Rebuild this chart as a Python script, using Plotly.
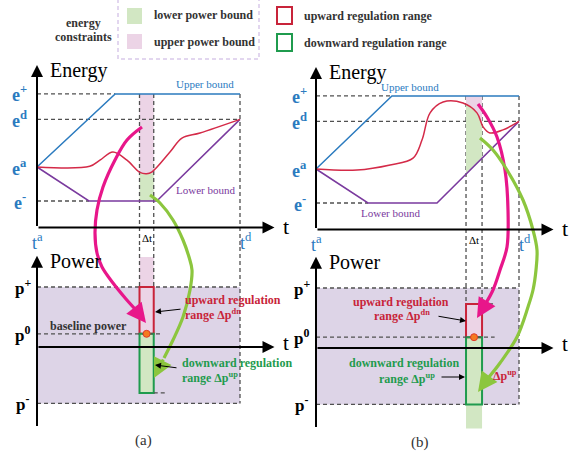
import plotly.graph_objects as go

W, H = 576, 458

# ------------------------------------------------------------------ data
t_a, t_d = 0.0, 10.0
t_end = 11.7                     # arrow tip of time axes
e_minus, e_arr, e_dep, e_plus = 1.0, 2.0, 3.4, 4.15
e_axis, e_top = 0.22, 5.0
p_plus, p_minus = 5.0, -4.7
p_top, p_bottom = 7.6, -6.7

win_a = [5.05, 5.75]
win_b = [7.39, 8.18]

ub_t_a = [0.0, 3.85, 10.0]
ub_e_a = [2.0, 4.15, 4.15]
lb_t_a = [0.0, 2.56, 5.9, 10.0]
lb_e_a = [2.0, 1.0, 1.0, 3.4]
ub_t_b = [0.0, 3.74, 10.0]
ub_e_b = [2.0, 4.15, 4.15]
lb_t_b = [0.0, 2.56, 5.96, 10.0]
lb_e_b = [2.0, 1.0, 1.0, 3.4]

traj_t_a = [0.0, 2.6, 3.1, 3.74, 4.43, 5.07, 5.4, 5.67, 6.55, 7.14, 8.03, 10.0]
traj_e_a = [2.0, 2.02, 2.2, 2.44, 2.2, 1.84, 1.8, 1.86, 2.44, 2.85, 3.0, 3.4]
e_win_a = 1.82

traj_t_b = [0.0, 2.02, 3.65, 4.78, 5.22, 5.62, 6.26, 7.24, 7.93, 8.23, 8.57, 9.21, 10.0]
traj_e_b = [2.0, 1.97, 2.12, 2.32, 2.85, 3.65, 3.97, 3.94, 3.65, 3.24, 3.06, 3.15, 3.4]
wcurve_t_b = [7.39, 7.7, 7.93, 8.18]
wcurve_e_b = [3.91, 3.8, 3.65, 3.3]
lb_win_b = [1.85, 2.32]          # lower bound at window edges (b)

p0_a, p0_b = 1.1, 0.9
dn_low_a = -3.83                 # bottom of downward range (a)
up_high_b = 3.67                 # top of upward range (b)
base_end_a, base_end_b = 6.16, 8.8

# curved arrows (figure pixel space)
mag_a_x = [142, 127, 115, 103, 97, 95, 97, 102, 113, 126, 135]
mag_a_y = [127, 140, 160, 187, 210, 233, 253, 267, 283, 299, 309]
lim_a_x = [150, 160, 173, 183, 189, 192, 190, 183, 173, 164]
lim_a_y = [195, 203, 220, 240, 257, 270, 290, 317, 340, 358]
mag_b_x = [478, 487, 497, 505, 508, 507, 500, 493, 486]
mag_b_y = [104, 117, 137, 170, 210, 247, 270, 290, 303]
lim_b_x = [480, 493, 507, 523, 533, 537, 536, 533, 528, 517, 500, 489]
lim_b_y = [138, 150, 170, 200, 230, 250, 270, 290, 307, 337, 363, 377]

# ------------------------------------------------------------------ style
SERIF = "Liberation Serif, Times New Roman, serif"
BLUE = "#2b7bbf"
PURPLE = "#7a3a9e"
TRAJ = "#d42a48"
MAG = "#e8168a"
LIME = "#8cc63e"
RRED = "#c8243a"
RGREEN = "#1f9b4e"
PINK = "#ecd4e6"
GFILL = "#d2e7c3"
LAV = "#ddd4e7"
DASH = "#505050"
TXT = "#333333"


def xdom(a, b):
    return [a / W, b / W]


def ydom(top, bot):
    return [1 - bot / H, 1 - top / H]


def xr(a, b, px0, s):
    return [(a - px0) / s, (b - px0) / s]


def yr(top, bot, pref, vref, s):
    return [vref - (bot - pref) / s, vref + (pref - top) / s]


hid = dict(visible=False, fixedrange=True, showgrid=False, zeroline=False)

fig = go.Figure()
shapes = []
ann = []


def seg(x0, y0, x1, y1, xa, ya, color=DASH, width=1.3, dash="4px,3px", layer="below"):
    shapes.append(dict(type="line", x0=x0, y0=y0, x1=x1, y1=y1, xref=xa, yref=ya,
                       line=dict(color=color, width=width, dash=dash), layer=layer))


def rect(x0, y0, x1, y1, xa, ya, fill, lc=None, lw=0, layer="below", dash=None):
    ln = dict(width=lw, color=lc if lc else fill)
    if dash:
        ln["dash"] = dash
    shapes.append(dict(type="rect", x0=x0, y0=y0, x1=x1, y1=y1, xref=xa, yref=ya,
                       fillcolor=fill, line=ln, layer=layer))


def arrow(x, y, ax, ay, xa, ya, color="black", width=2, size=1.0, head=2):
    ann.append(dict(x=x, y=y, ax=ax, ay=ay, xref=xa, yref=ya, axref=xa, ayref=ya,
                    text="", showarrow=True, arrowhead=head, arrowsize=size,
                    arrowwidth=width, arrowcolor=color))


def txt(x, y, s, xa, ya, size=12, color=TXT, xanchor="center", yanchor="middle",
        xshift=0, yshift=0):
    ann.append(dict(x=x, y=y, text=s, xref=xa, yref=ya, showarrow=False,
                    xanchor=xanchor, yanchor=yanchor, xshift=xshift, yshift=yshift,
                    font=dict(family=SERIF, size=size, color=color)))


panels = [
    ("x", "y", "y2", "x2", ub_t_a, lb_t_a, traj_t_a, traj_e_a, win_a, p0_a, base_end_a),
    ("x3", "y3", "y4", "x4", ub_t_b, lb_t_b, traj_t_b, traj_e_b, win_b, p0_b, base_end_b),
]

for i, (xe, ye, yp, xp, ubt, lbt, trt, tre, win, p0, bend) in enumerate(panels):
    ube = ub_e_a if i == 0 else ub_e_b
    lbe = lb_e_a if i == 0 else lb_e_b
    # ---------- energy panel
    if i == 0:
        rect(win[0], e_win_a, win[1], e_plus, xe, ye, PINK)
        rect(win[0], e_minus, win[1], e_win_a, xe, ye, GFILL)
    else:
        fig.add_trace(go.Scatter(
            x=[win[0]] + wcurve_t_b + [win[1]], y=[e_plus] + wcurve_e_b + [e_plus],
            xaxis=xe, yaxis=ye, mode="lines", line=dict(width=0), fill="toself",
            fillcolor=PINK, hoverinfo="skip", showlegend=False))
        fig.add_trace(go.Scatter(
            x=wcurve_t_b + [win[1], win[0]], y=wcurve_e_b + [lb_win_b[1], lb_win_b[0]],
            xaxis=xe, yaxis=ye, mode="lines", line=dict(width=0), fill="toself",
            fillcolor=GFILL, hoverinfo="skip", showlegend=False))
    seg(0, e_plus, ubt[1], e_plus, xe, ye)
    seg(0, e_dep, t_d, e_dep, xe, ye)
    seg(0, e_minus, lbt[1], e_minus, xe, ye)
    seg(t_d, e_plus, t_d, -5, xe, ye)
    seg(win[0], e_plus, win[0], -5, xe, ye)
    seg(win[1], e_plus, win[1], -5, xe, ye)
    fig.add_trace(go.Scatter(x=ubt, y=ube, xaxis=xe, yaxis=ye, mode="lines",
                             line=dict(color=BLUE, width=1.5), hoverinfo="skip",
                             showlegend=False))
    fig.add_trace(go.Scatter(x=lbt, y=lbe, xaxis=xe, yaxis=ye, mode="lines",
                             line=dict(color=PURPLE, width=1.5), hoverinfo="skip",
                             showlegend=False))
    fig.add_trace(go.Scatter(x=trt, y=tre, xaxis=xe, yaxis=ye, mode="lines",
                             line=dict(color=TRAJ, width=1.5, shape="spline", smoothing=1.0),
                             hoverinfo="skip", showlegend=False))
    arrow(0, e_top, 0, e_axis, xe, ye, size=1.2)
    arrow(t_end, e_axis, 0, e_axis, xe, ye, size=1.2)
    txt(t_end + 0.55, e_axis, "t", xe, ye, size=22, color="black", yshift=1)
    txt(0.55, e_top - 0.15, "Energy", xe, ye, size=20, color="black", xanchor="left")
    lx = -0.85 if i == 0 else -0.8
    for val, lab in [(e_plus, "e<sup>+</sup>"), (e_dep, "e<sup>d</sup>"),
                     (e_arr, "e<sup>a</sup>"), (e_minus, "e<sup>-</sup>")]:
        txt(lx, val, "<b>" + lab + "</b>", xe, ye, size=18, color=BLUE)
    txt(t_a, e_axis, "t<sup>a</sup>", xe, ye, size=18, color=BLUE, yshift=-14)
    txt(t_d + 0.3, e_axis, "t<sup>d</sup>", xe, ye, size=18, color=BLUE, yshift=-14)
    txt(sum(win) / 2, e_axis, "Δt", xe, ye, size=11, color="black", yshift=-10)
    if i == 0:
        txt(8.3, 4.44, "Upper bound", xe, ye, size=11, color=BLUE)
        txt(8.3, 1.32, "Lower bound", xe, ye, size=11, color=PURPLE)
    else:
        txt(4.63, 4.41, "Upper bound", xe, ye, size=11, color=BLUE)
        txt(3.65, 0.71, "Lower bound", xe, ye, size=11, color=PURPLE)

    # ---------- power panel
    rect(0, p_minus, t_d, p_plus, xp, yp, LAV)
    seg(0, p_plus, t_d, p_plus, xp, yp)
    seg(0, p_minus, t_d, p_minus, xp, yp)
    seg(t_d, 20, t_d, p_minus, xp, yp)
    if i == 0:
        rect(win[0], p_plus, win[1], p_top - 0.1, xp, yp, PINK)
        seg(win[0], 20, win[0], p_plus, xp, yp)
        seg(win[1], 20, win[1], p_plus, xp, yp)
        rect(win[0], p0, win[1], p_plus, xp, yp, PINK, RRED, 2)
        rect(win[0], dn_low_a, win[1], p0, xp, yp, GFILL, RGREEN, 2)
        seg(win[1], dn_low_a, win[1] + 0.65, dn_low_a, xp, yp)
    else:
        rect(win[0], p_bottom, win[1], p0, xp, yp, GFILL)
        seg(win[0], 20, win[0], up_high_b, xp, yp)
        seg(win[1], 20, win[1], up_high_b, xp, yp)
        rect(win[0], p0, win[1], up_high_b, xp, yp, PINK, RRED, 2)
        rect(win[0], p_minus, win[1], p0, xp, yp, "rgba(0,0,0,0)", RGREEN, 2)
        seg(win[1], up_high_b, win[1] + 0.55, up_high_b, xp, yp)
    seg(0, p0, bend, p0, xp, yp)
    arrow(0, p_top, 0, p_bottom, xp, yp, size=1.2)
    arrow(t_end, 0, 0, 0, xp, yp, size=1.2)
    txt(t_end + 0.55, 0, "t", xp, yp, size=21, color="black", yshift=4)
    txt(0.55, p_top - 0.45, "Power", xp, yp, size=20, color="black", xanchor="left")
    for val, lab in [(p_plus, "p<sup>+</sup>"), (p0, "p<sup>0</sup>"),
                     (p_minus, "p<sup>-</sup>")]:
        txt(-0.7, val, "<b>" + lab + "</b>", xp, yp, size=17, color="black")
    fig.add_trace(go.Scatter(x=[sum(win) / 2], y=[p0], xaxis=xp, yaxis=yp, mode="markers",
                             marker=dict(color="#f47b20", size=7,
                                         line=dict(color="#e03a2a", width=1)),
                             hoverinfo="skip", showlegend=False, cliponaxis=False))

# ------------------------------------------------------------------ curved arrows
for xs, ys, col, tip in [(mag_a_x, mag_a_y, MAG, (146, 323)),
                         (lim_a_x, lim_a_y, LIME, (154, 378)),
                         (mag_b_x, mag_b_y, MAG, (477, 318)),
                         (lim_b_x, lim_b_y, LIME, (478, 392))]:
    fig.add_trace(go.Scatter(x=xs, y=ys, xaxis="x5", yaxis="y5", mode="lines",
                             line=dict(color=col, width=3.2, shape="spline", smoothing=1.0),
                             hoverinfo="skip", showlegend=False))
    arrow(tip[0], tip[1], xs[-1], ys[-1], "x5", "y5", color=col, width=3, size=1.3)

# pointer arrows
arrow(155, 312, 182, 309, "x5", "y5", width=1, size=1.2)
arrow(155, 365, 178, 368, "x5", "y5", width=1, size=1.2)
arrow(466, 321, 437, 316, "x5", "y5", width=1, size=1.2)
arrow(465, 377, 440, 377, "x5", "y5", width=1, size=1.2)

# annotation texts in the power panels
txt(183, 300, "<b>upward regulation</b>", "x5", "y5", 12, RRED, "left")
txt(183, 314, "<b>range Δp<sup>dn</sup></b>", "x5", "y5", 12, RRED, "left")
txt(180, 363, "<b>downward regulation</b>", "x5", "y5", 12, RGREEN, "left")
txt(180, 377, "<b>range Δp<sup>up</sup></b>", "x5", "y5", 12, RGREEN, "left")
txt(48, 326, "<b>baseline power</b>", "x5", "y5", 12, TXT, "left")
txt(401, 302, "<b>upward regulation</b>", "x5", "y5", 12, RRED)
txt(402, 315, "<b>range Δp<sup>dn</sup></b>", "x5", "y5", 12, RRED)
txt(404, 363, "<b>downward regulation</b>", "x5", "y5", 12, RGREEN)
txt(407, 378, "<b>range Δp<sup>up</sup></b>", "x5", "y5", 12, RGREEN)
txt(505, 375, "<b>Δp<sup>up</sup></b>", "x5", "y5", 12, RRED)
txt(143, 440, "(a)", "x5", "y5", 15, TXT)
txt(420, 442, "(b)", "x5", "y5", 15, TXT)

# ------------------------------------------------------------------ legend
rect(118, -2, 259, 59, "x5", "y5", "rgba(0,0,0,0)", "#d9c9ea", 1.5, dash="4px,3px")
rect(127, 8, 142, 24, "x5", "y5", GFILL)
rect(127, 34, 142, 49, "x5", "y5", PINK)
rect(277, 7, 292, 24, "x5", "y5", "white", RRED, 2)
rect(277, 34, 292, 51, "x5", "y5", "white", RGREEN, 2)
txt(83, 23, "<b>energy</b>", "x5", "y5", 12, TXT)
txt(83, 37, "<b>constraints</b>", "x5", "y5", 12, TXT)
txt(152, 15, "<b>lower power bound</b>", "x5", "y5", 12, TXT, "left")
txt(152, 42, "<b>upper power bound</b>", "x5", "y5", 12, TXT, "left")
txt(302, 16, "<b>upward regulation range</b>", "x5", "y5", 12, TXT, "left")
txt(302, 43, "<b>downward regulation range</b>", "x5", "y5", 12, TXT, "left")

# ------------------------------------------------------------------ layout
SX, SE, SP = 20.3, 34.0, 12.0
layout = dict(
    width=W, height=H, margin=dict(l=0, r=0, t=0, b=0),
    paper_bgcolor="white", plot_bgcolor="rgba(0,0,0,0)", showlegend=False,
    shapes=shapes, annotations=ann,
    xaxis=dict(domain=xdom(0, 288), range=xr(0, 288, 37, SX), anchor="y", **hid),
    yaxis=dict(domain=ydom(50, 246), range=yr(50, 246, 201, e_minus, SE), anchor="x", **hid),
    xaxis2=dict(domain=xdom(0, 288), range=xr(0, 288, 37, SX), anchor="y2", **hid),
    yaxis2=dict(domain=ydom(246, 440), range=yr(246, 440, 347, 0, SP), anchor="x2", **hid),
    xaxis3=dict(domain=xdom(288, 576), range=xr(288, 576, 316, SX), anchor="y3", **hid),
    yaxis3=dict(domain=ydom(50, 246), range=yr(50, 246, 203, e_minus, SE), anchor="x3", **hid),
    xaxis4=dict(domain=xdom(288, 576), range=xr(288, 576, 316, SX), anchor="y4", **hid),
    yaxis4=dict(domain=ydom(246, 440), range=yr(246, 440, 348, 0, SP), anchor="x4", **hid),
    xaxis5=dict(domain=[0, 1], range=[0, W], anchor="y5", **hid),
    yaxis5=dict(domain=[0, 1], range=[H, 0], anchor="x5", **hid),
)
fig.update_layout(**layout)
fig.write_html("out.html")
